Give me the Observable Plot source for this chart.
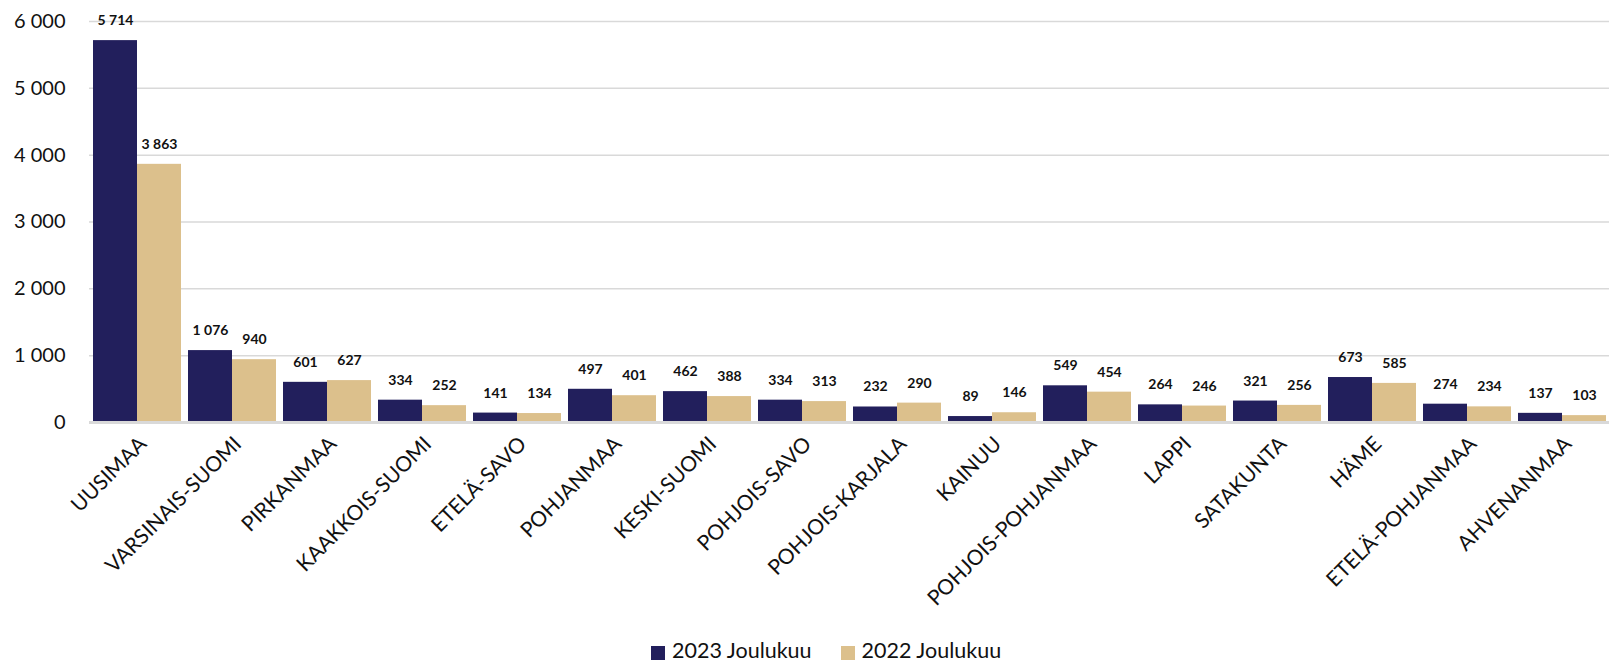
<!DOCTYPE html>
<html><head><meta charset="utf-8">
<script src="https://cdn.jsdelivr.net/npm/d3@7"></script>
<script src="https://cdn.jsdelivr.net/npm/@observablehq/plot@0.6"></script>
<style>
html,body{margin:0;padding:0;background:#fff;font-family:Lato,"Open Sans",sans-serif;overflow:hidden;}
#chart svg{display:block;}
#legend{display:flex;font-size:21.5px;line-height:22px;color:#111;margin-left:651px;white-space:nowrap;}
#legend div{margin-right:29px;}
#legend span.sw{display:inline-block;width:14px;height:14px;margin-right:7px;vertical-align:-2px;}
</style>
</head><body>
<div id="chart"></div>
<div id="legend"></div>
<script>
const categories = ["UUSIMAA","VARSINAIS-SUOMI","PIRKANMAA","KAAKKOIS-SUOMI","ETELÄ-SAVO","POHJANMAA","KESKI-SUOMI","POHJOIS-SAVO","POHJOIS-KARJALA","KAINUU","POHJOIS-POHJANMAA","LAPPI","SATAKUNTA","HÄME","ETELÄ-POHJANMAA","AHVENANMAA"];
const series = ["2023 Joulukuu","2022 Joulukuu"];
const values2023 = [5714,1076,601,334,141,497,462,334,232,89,549,264,321,673,274,137];
const values2022 = [3863,940,627,252,134,401,388,313,290,146,454,246,256,585,234,103];
const yTicks = [0,1000,2000,3000,4000,5000,6000];
const colors = ["#221f5c","#dcc08c"];

const data = [];
categories.forEach((c,i)=>{
  data.push({cat:c, series:series[0], value:values2023[i]});
  data.push({cat:c, series:series[1], value:values2022[i]});
});
const fmt = d => d3.format(",")(d).replace(/,/g," ");

const chart = Plot.plot({
  width:1610, height:639,
  marginTop:21, marginBottom:217, marginLeft:87, marginRight:0,
  style:{fontFamily:"Lato, 'Open Sans', sans-serif", background:"#fff", maxWidth:"none"},
  fx:{domain:categories, padding:0, label:null},
  x:{domain:series, axis:null, paddingInner:0, paddingOuter:0.075},
  y:{domain:[0,6000], ticks:yTicks, tickFormat:fmt, label:null},
  color:{domain:series, range:colors},
  marks:[
    Plot.gridY(yTicks.filter(d=>d>0), {stroke:"#d9d9d9", strokeOpacity:1, strokeWidth:1.5}),
    Plot.axisY({ticks:yTicks, tickFormat:fmt, tickSize:0, tickPadding:24, fontSize:20, label:null, color:"#111"}),
    Plot.axisFx({anchor:"bottom", tickRotate:-45, tickSize:0, tickPadding:22, dx:6, dy:-4, fontSize:21, label:null, color:"#111"}),
    Plot.barY(data, {fx:"cat", x:"series", y:"value", fill:"series"}),
    Plot.text(data, {fx:"cat", x:"series", y:"value", text:d=>fmt(d.value), dy:-20, fontWeight:"bold", fontSize:14, fill:"#111"}),
    Plot.ruleY([0], {stroke:"#d9d9d9", strokeWidth:3})
  ]
});
document.getElementById("chart").appendChild(chart);

const lg = document.getElementById("legend");
series.forEach((s,i)=>{
  const d = document.createElement("div");
  d.innerHTML = `<span class="sw" style="background:${colors[i]}"></span>${s}`;
  lg.appendChild(d);
});
</script>
</body></html>
